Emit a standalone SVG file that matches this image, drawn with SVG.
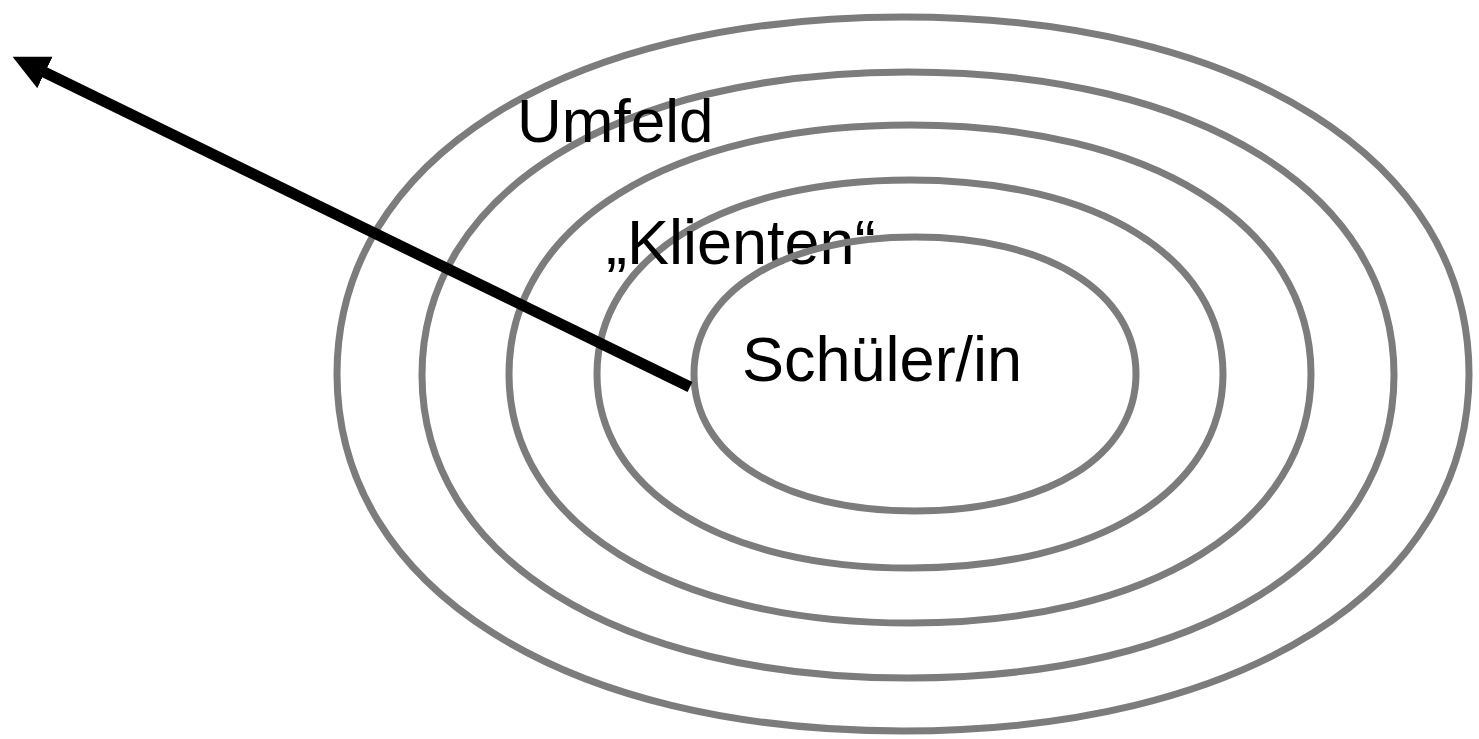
<svg xmlns="http://www.w3.org/2000/svg" width="1479" height="739" viewBox="0 0 1479 739">
<style>
.ring{fill:none;stroke:#7c7c7c;stroke-width:7}
.lbl{font-family:"Liberation Sans",Arial,sans-serif;fill:#000}
</style>
<defs>
<marker id="ah" markerUnits="userSpaceOnUse" markerWidth="36" markerHeight="36" viewBox="0 0 35 34" refX="1" refY="17" orient="auto">
<path d="M0,0 L35,17 L0,34 z" fill="#000"/>
</marker>
</defs>
<rect width="1479" height="739" fill="#fff"/>
<g id="ring-outer"><path class="ring" d="M337,374 C337,159.8 563.4,17 903,17 C1242.6,17 1469,159.8 1469,374 C1469,588.2 1242.6,731 903,731 C563.4,731 337,588.2 337,374 Z"/></g>
<g id="ring-umfeld"><path class="ring" d="M422,375 C422,193.2 616.4,72 908,72 C1199.6,72 1394,193.2 1394,375 C1394,556.8 1199.6,678 908,678 C616.4,678 422,556.8 422,375 Z"/><text class="lbl" x="517" y="142" font-size="62">Umfeld</text></g>
<g id="ring-3"><path class="ring" d="M509,374 C509,224.6 669.4,125 910,125 C1150.6,125 1311,224.6 1311,374 C1311,523.4 1150.6,623 910,623 C669.4,623 509,523.4 509,374 Z"/></g>
<g id="ring-klienten"><path class="ring" d="M597,374 C597,257.6 722.2,180 910,180 C1097.8,180 1223,257.6 1223,374 C1223,490.4 1097.8,568 910,568 C722.2,568 597,490.4 597,374 Z"/><text class="lbl" x="606" y="264" font-size="63">„Klienten“</text></g>
<g id="ring-schueler"><path class="ring" d="M694,374 C694,291.8 782.4,237 915,237 C1047.6,237 1136,291.8 1136,374 C1136,456.2 1047.6,511 915,511 C782.4,511 694,456.2 694,374 Z"/><text class="lbl" x="742" y="381" font-size="63">Schüler/in</text></g>
<g id="connectors">
<line x1="690" y1="387" x2="44" y2="72" stroke="#000" stroke-width="11" marker-end="url(#ah)"/>
</g>
</svg>
